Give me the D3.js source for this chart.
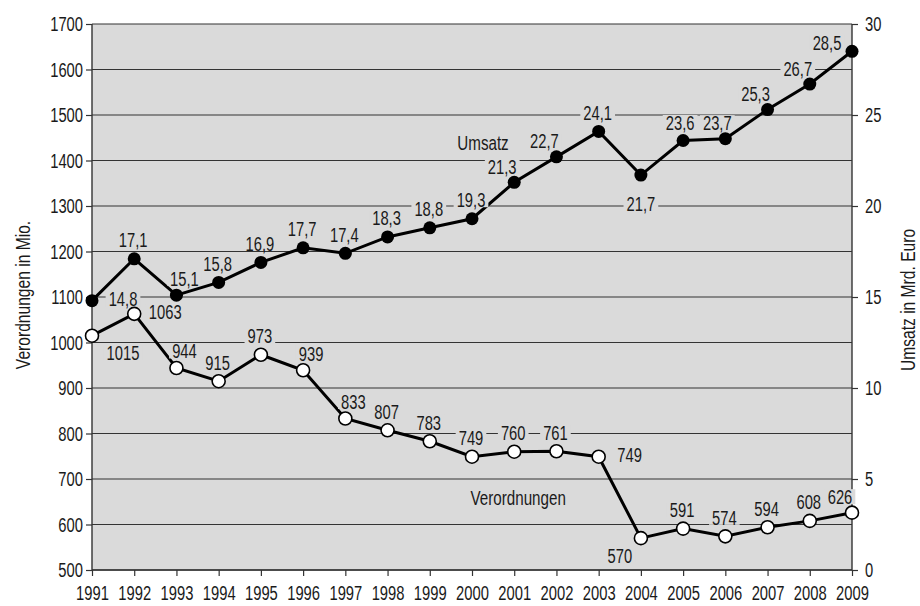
<!DOCTYPE html>
<html><head><meta charset="utf-8">
<script src="https://cdn.jsdelivr.net/npm/d3@7"></script>
<style>
body{margin:0;background:#fff;}
text{font-family:"Liberation Sans",Arial,sans-serif;fill:#1a1a1a;}
</style></head><body>
<svg id="chart" width="920" height="606"></svg>
<script>
const years = [1991,1992,1993,1994,1995,1996,1997,1998,1999,2000,2001,2002,2003,2004,2005,2006,2007,2008,2009];
const umsatz = [14.8,17.1,15.1,15.8,16.9,17.7,17.4,18.3,18.8,19.3,21.3,22.7,24.1,21.7,23.6,23.7,25.3,26.7,28.5];
const verordnungen = [1015,1063,944,915,973,939,833,807,783,749,760,761,749,570,591,574,594,608,626];
const umsatzLabelPos = ["r","a","ar","a","a","a","a","a","a","a","al","al","a","b","a2","al2","al","al","l"];
const verordLabelPos = ["br","r","ar","a","a","ar","ar","a","a","a","a","a","r","bl","a","a","a","a","al"];
const leftTicks = [500,600,700,800,900,1000,1100,1200,1300,1400,1500,1600,1700];
const rightTicks = [0,5,10,15,20,25,30];
const leftTitle = "Verordnungen in Mio.";
const rightTitle = "Umsatz in Mrd. Euro";
const seriesNames = {umsatz:"Umsatz", verord:"Verordnungen"};

const svg = d3.select("#chart");
const m = {left:92, right:852, top:24, bottom:570};
const x = d3.scalePoint().domain(years).range([m.left, m.right]);
const yL = d3.scaleLinear().domain([500,1700]).range([m.bottom, m.top]);
const yR = d3.scaleLinear().domain([0,30]).range([m.bottom, m.top]);
const bg = "#dadada";
const FS = 20.5;
const SQ = 0.72;

function squeeze(sel, r){
  sel.each(function(){
    const len = this.getComputedTextLength();
    d3.select(this).attr("textLength", len*(r||SQ)).attr("lengthAdjust","spacingAndGlyphs");
  });
}

svg.append("rect").attr("x",m.left).attr("y",m.top).attr("width",m.right-m.left).attr("height",m.bottom-m.top).attr("fill",bg);

svg.append("g").selectAll("line").data(leftTicks).join("line")
  .attr("x1",m.left).attr("x2",m.right).attr("y1",d=>yL(d)).attr("y2",d=>yL(d))
  .attr("stroke","#333").attr("stroke-width",1.2);

const gL = svg.append("g").attr("transform",`translate(${m.left},0)`)
  .call(d3.axisLeft(yL).tickValues(leftTicks).tickSize(6).tickPadding(3).tickFormat(d3.format("d")));
const gR = svg.append("g").attr("transform",`translate(${m.right},0)`)
  .call(d3.axisRight(yR).tickValues(rightTicks).tickSize(6).tickPadding(7).tickFormat(d3.format("d")));
const gB = svg.append("g").attr("transform",`translate(0,${m.bottom})`)
  .call(d3.axisBottom(x).tickSize(6).tickPadding(9).tickFormat(d3.format("d")));
[gL,gR,gB].forEach(g=>{
  g.select(".domain").attr("stroke","#333").attr("stroke-width",1.4);
  g.selectAll(".tick line").attr("stroke","#333").attr("stroke-width",1.2);
  g.selectAll(".tick text").attr("font-size",FS).attr("fill","#1a1a1a")
    .style("font-family",'"Liberation Sans",Arial,sans-serif');
  squeeze(g.selectAll(".tick text"));
});
gB.select(".domain").attr("d",`M${m.left},0H${m.right}`);
gL.select(".domain").attr("d",`M0,${m.top}V${m.bottom}`);
gR.select(".domain").attr("d",`M0,${m.top}V${m.bottom}`);

const tL = svg.append("text").attr("transform",`translate(23,${(m.top+m.bottom)/2 - 2}) rotate(-90)`)
  .attr("text-anchor","middle").attr("dominant-baseline","central").attr("font-size",19.5).text(leftTitle);
const tR = svg.append("text").attr("transform",`translate(908,${(m.top+m.bottom)/2 + 3}) rotate(-90)`)
  .attr("text-anchor","middle").attr("dominant-baseline","central").attr("font-size",19.5).text(rightTitle);
squeeze(tL, 0.8); squeeze(tR, 0.8);

const lineU = d3.line().x((d,i)=>x(years[i])).y(d=>yR(d));
const lineV = d3.line().x((d,i)=>x(years[i])).y(d=>yL(d));
svg.append("path").datum(verordnungen).attr("d",lineV).attr("fill","none").attr("stroke","#000").attr("stroke-width",3);
svg.append("path").datum(umsatz).attr("d",lineU).attr("fill","none").attr("stroke","#000").attr("stroke-width",3);

const offsets = {
  a:[-1,-19], a2:[-3,-18], b:[0,28], r:[31,-2], l:[-25,-9], al:[-12,-16], al2:[-8,-16],
  ar:[8,-17], br:[31,17], bl:[-21,17]
};
const fmt = d=>String(d).replace(".",",");

function labels(values, pos, ys, isU){
  const g = svg.append("g");
  values.forEach((v,i)=>{
    const o = offsets[pos[i]];
    const cx = x(years[i]) + o[0], cy = ys(v) + o[1];
    const t = g.append("text").attr("x",cx).attr("y",cy).attr("text-anchor","middle")
      .attr("dominant-baseline","central").attr("font-size",FS).text(isU?fmt(v):String(v));
    squeeze(t);
    const b = t.node().getBBox();
    g.insert("rect","text").attr("x",b.x-3).attr("y",b.y+4).attr("width",b.width+6).attr("height",b.height-8).attr("fill",bg);
  });
}
labels(umsatz, umsatzLabelPos, yR, true);
labels(verordnungen, verordLabelPos, yL, false);

svg.append("g").selectAll("circle").data(umsatz).join("circle")
  .attr("cx",(d,i)=>x(years[i])).attr("cy",d=>yR(d)).attr("r",6.5).attr("fill","#000");
svg.append("g").selectAll("circle").data(verordnungen).join("circle")
  .attr("cx",(d,i)=>x(years[i])).attr("cy",d=>yL(d)).attr("r",6.5).attr("fill","#fff").attr("stroke","#000").attr("stroke-width",1.6);

const s1 = svg.append("text").attr("x",x(2000)+11).attr("y",yR(23.5)).attr("text-anchor","middle").attr("dominant-baseline","central").attr("font-size",FS).text(seriesNames.umsatz);
const s2 = svg.append("text").attr("x",x(2001)+4).attr("y",yL(660)).attr("text-anchor","middle").attr("dominant-baseline","central").attr("font-size",FS).text(seriesNames.verord);
squeeze(s1, 0.74); squeeze(s2, 0.74);
</script></body></html>
